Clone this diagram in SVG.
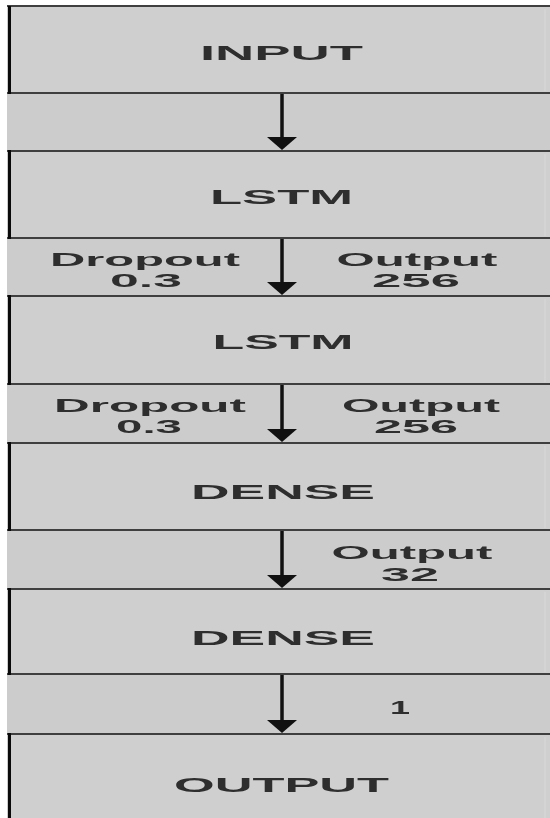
<svg xmlns="http://www.w3.org/2000/svg" width="550" height="818" viewBox="0 0 550 818">
  <defs>
    <style>
      .bg { fill: #cccccc; }
      .box { fill: #cfcfcf; }
      .hline { stroke: #3f3f3f; stroke-width: 2; }
      .lborder { stroke: #0a0a0a; stroke-width: 3; }
      .inner { stroke: #d9d9d9; stroke-width: 1; fill: none; }
      .title { font-family: "Liberation Sans", Arial, sans-serif; font-weight: bold; font-size: 21px; fill: #2e2e2e; text-anchor: middle; }
      .lbl { font-family: "Liberation Sans", Arial, sans-serif; font-weight: bold; font-size: 18px; fill: #2e2e2e; text-anchor: middle; }
      .shaft { stroke: #111111; stroke-width: 3.5; }
      .head { fill: #111111; }
    </style>
    <filter id="soft" x="-5%" y="-20%" width="110%" height="140%">
      <feGaussianBlur stdDeviation="0.45"/>
    </filter>
  </defs>

  <rect x="0" y="0" width="550" height="818" fill="#ffffff"/>
  <rect class="bg" x="7" y="6" width="543" height="812"/>

  <g id="node-input">
    <rect class="box" x="9" y="7" width="541" height="86"/>
    <line class="inner" x1="545" y1="9" x2="545" y2="91"/>
    <line class="hline" x1="7" y1="6" x2="550" y2="6"/>
    <line class="hline" x1="7" y1="93" x2="550" y2="93"/>
    <line class="lborder" x1="9.5" y1="6" x2="9.5" y2="94"/>
    <text class="title" x="281.5" y="60" textLength="163" lengthAdjust="spacingAndGlyphs" filter="url(#soft)">INPUT</text>
  </g>

  <g id="node-lstm1">
    <rect class="box" x="9" y="152" width="541" height="86"/>
    <line class="inner" x1="545" y1="154" x2="545" y2="236"/>
    <line class="hline" x1="7" y1="151" x2="550" y2="151"/>
    <line class="hline" x1="7" y1="238" x2="550" y2="238"/>
    <line class="lborder" x1="9.5" y1="150" x2="9.5" y2="239"/>
    <text class="title" x="281.5" y="204" textLength="143" lengthAdjust="spacingAndGlyphs" filter="url(#soft)">LSTM</text>
  </g>

  <g id="node-lstm2">
    <rect class="box" x="9" y="297" width="541" height="87"/>
    <line class="inner" x1="545" y1="299" x2="545" y2="382"/>
    <line class="hline" x1="7" y1="296" x2="550" y2="296"/>
    <line class="hline" x1="7" y1="384" x2="550" y2="384"/>
    <line class="lborder" x1="9.5" y1="295" x2="9.5" y2="385"/>
    <text class="title" x="283" y="349" textLength="141" lengthAdjust="spacingAndGlyphs" filter="url(#soft)">LSTM</text>
  </g>

  <g id="node-dense1">
    <rect class="box" x="9" y="444" width="541" height="86"/>
    <line class="inner" x1="545" y1="446" x2="545" y2="528"/>
    <line class="hline" x1="7" y1="443" x2="550" y2="443"/>
    <line class="hline" x1="7" y1="530" x2="550" y2="530"/>
    <line class="lborder" x1="9.5" y1="442" x2="9.5" y2="531"/>
    <text class="title" x="283" y="499" textLength="184" lengthAdjust="spacingAndGlyphs" filter="url(#soft)">DENSE</text>
  </g>

  <g id="node-dense2">
    <rect class="box" x="9" y="590" width="541" height="84"/>
    <line class="inner" x1="545" y1="592" x2="545" y2="672"/>
    <line class="hline" x1="7" y1="589" x2="550" y2="589"/>
    <line class="hline" x1="7" y1="674" x2="550" y2="674"/>
    <line class="lborder" x1="9.5" y1="588" x2="9.5" y2="675"/>
    <text class="title" x="283" y="645" textLength="184" lengthAdjust="spacingAndGlyphs" filter="url(#soft)">DENSE</text>
  </g>

  <g id="node-output">
    <rect class="box" x="9" y="735" width="541" height="83"/>
    <line class="inner" x1="545" y1="737" x2="545" y2="818"/>
    <line class="hline" x1="7" y1="734" x2="550" y2="734"/>
    <line class="lborder" x1="9.5" y1="733" x2="9.5" y2="818"/>
    <text class="title" x="281.5" y="792" textLength="215" lengthAdjust="spacingAndGlyphs" filter="url(#soft)">OUTPUT</text>
  </g>

  <g id="connectors">
    <g id="edge-input-lstm1">
      <line class="shaft" x1="282" y1="94" x2="282" y2="139"/>
      <polygon class="head" points="267,137 297,137 282,150"/>
    </g>
    <g id="edge-lstm1-lstm2">
      <line class="shaft" x1="282" y1="239" x2="282" y2="284"/>
      <polygon class="head" points="267,282 297,282 282,295"/>
      <text class="lbl" x="145" y="266" textLength="190" lengthAdjust="spacingAndGlyphs" filter="url(#soft)">Dropout</text>
      <text class="lbl" x="146" y="287" textLength="72" lengthAdjust="spacingAndGlyphs" filter="url(#soft)">0.3</text>
      <text class="lbl" x="417" y="266" textLength="161" lengthAdjust="spacingAndGlyphs" filter="url(#soft)">Output</text>
      <text class="lbl" x="416" y="287" textLength="88" lengthAdjust="spacingAndGlyphs" filter="url(#soft)">256</text>
    </g>
    <g id="edge-lstm2-dense1">
      <line class="shaft" x1="282" y1="385" x2="282" y2="431"/>
      <polygon class="head" points="267,429 297,429 282,442"/>
      <text class="lbl" x="150" y="412" textLength="192" lengthAdjust="spacingAndGlyphs" filter="url(#soft)">Dropout</text>
      <text class="lbl" x="149" y="433" textLength="66" lengthAdjust="spacingAndGlyphs" filter="url(#soft)">0.3</text>
      <text class="lbl" x="421" y="412" textLength="158" lengthAdjust="spacingAndGlyphs" filter="url(#soft)">Output</text>
      <text class="lbl" x="416" y="433" textLength="84" lengthAdjust="spacingAndGlyphs" filter="url(#soft)">256</text>
    </g>
    <g id="edge-dense1-dense2">
      <line class="shaft" x1="282" y1="531" x2="282" y2="577"/>
      <polygon class="head" points="267,575 297,575 282,588"/>
      <text class="lbl" x="412" y="559" textLength="161" lengthAdjust="spacingAndGlyphs" filter="url(#soft)">Output</text>
      <text class="lbl" x="410" y="581" textLength="58" lengthAdjust="spacingAndGlyphs" filter="url(#soft)">32</text>
    </g>
    <g id="edge-dense2-output">
      <line class="shaft" x1="282" y1="675" x2="282" y2="722"/>
      <polygon class="head" points="267,720 297,720 282,733"/>
      <text class="lbl" x="400" y="714" font-size="17" textLength="20" lengthAdjust="spacingAndGlyphs" filter="url(#soft)">1</text>
    </g>
  </g>
</svg>
